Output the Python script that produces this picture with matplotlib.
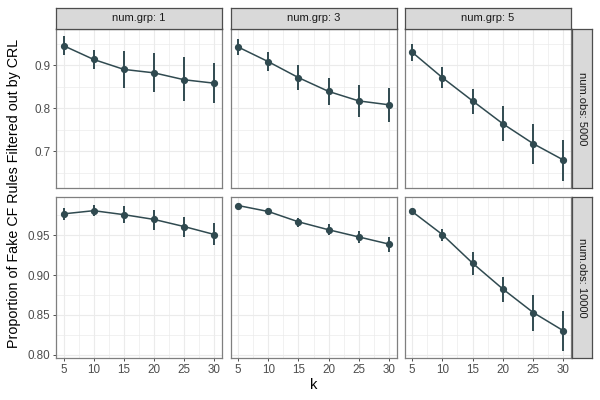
import numpy as np
import matplotlib
matplotlib.use('Agg')
import matplotlib.pyplot as plt
from matplotlib.ticker import MultipleLocator

plt.rcParams['font.family'] = ['Liberation Sans', 'DejaVu Sans']

#data
k = [5, 10, 15, 20, 25, 30]
num_grp = [1, 3, 5]
num_obs = [5000, 10000]

#num.obs: 5000
mean_5000 = {
    1: [0.945, 0.913, 0.890, 0.882, 0.866, 0.858],
    3: [0.942, 0.908, 0.871, 0.839, 0.817, 0.808],
    5: [0.930, 0.871, 0.817, 0.764, 0.718, 0.680],
}
lo_5000 = {
    1: [0.923, 0.890, 0.847, 0.837, 0.817, 0.812],
    3: [0.923, 0.886, 0.843, 0.807, 0.779, 0.769],
    5: [0.910, 0.847, 0.786, 0.723, 0.670, 0.632],
}
hi_5000 = {
    1: [0.968, 0.934, 0.933, 0.927, 0.918, 0.904],
    3: [0.961, 0.930, 0.900, 0.870, 0.855, 0.847],
    5: [0.949, 0.895, 0.845, 0.805, 0.764, 0.727],
}

#num.obs: 10000
mean_10000 = {
    1: [0.977, 0.981, 0.976, 0.970, 0.961, 0.951],
    3: [0.9875, 0.980, 0.967, 0.957, 0.948, 0.939],
    5: [0.980, 0.951, 0.915, 0.8825, 0.853, 0.830],
}
lo_10000 = {
    1: [0.969, 0.974, 0.966, 0.957, 0.948, 0.9375],
    3: [0.986, 0.975, 0.960, 0.950, 0.940, 0.929],
    5: [0.977, 0.943, 0.900, 0.866, 0.830, 0.805],
}
hi_10000 = {
    1: [0.984, 0.988, 0.987, 0.982, 0.973, 0.966],
    3: [0.989, 0.985, 0.972, 0.964, 0.956, 0.948],
    5: [0.983, 0.958, 0.929, 0.898, 0.875, 0.855],
}

means = {5000: mean_5000, 10000: mean_10000}
lows = {5000: lo_5000, 10000: lo_10000}
highs = {5000: hi_5000, 10000: hi_10000}

col = '#304A50'
grid_col = '#EBEBEB'
W, H = 600.0, 400.0

fig = plt.figure(figsize=(6, 4), dpi=100)

#panel positions in pixels
xs = [(56, 222), (230.5, 396.5), (404.5, 571)]
ys = [(28.5, 188), (197, 358)]
ytick_major = [[0.7, 0.8, 0.9], [0.80, 0.85, 0.90, 0.95]]
ytick_fmt = ['%.1f', '%.2f']
yminor = [0.05, 0.025]

for r, nobs in enumerate(num_obs):
    # shared y range per row
    allv = []
    for g in num_grp:
        allv += lows[nobs][g] + highs[nobs][g]
    vmin, vmax = min(allv), max(allv)
    pad = 0.05 * (vmax - vmin)
    for c, g in enumerate(num_grp):
        x0, x1 = xs[c]
        y0, y1 = ys[r]
        ax = fig.add_axes([x0 / W, 1 - y1 / H, (x1 - x0) / W, (y1 - y0) / H])
        m = np.array(means[nobs][g])
        lo = np.array(lows[nobs][g])
        hi = np.array(highs[nobs][g])
        ax.vlines(k, lo, hi, color=col, lw=1.4, zorder=3)
        ax.plot(k, m, color=col, lw=1.1, zorder=4)
        ax.plot(k, m, 'o', color=col, ms=4.2, zorder=5)
        ax.set_xlim(3.75, 31.25)
        ax.set_ylim(vmin - pad, vmax + pad)
        ax.set_xticks(k)
        ax.xaxis.set_minor_locator(MultipleLocator(2.5))
        ax.set_yticks(ytick_major[r])
        ax.yaxis.set_minor_locator(MultipleLocator(yminor[r]))
        ax.grid(True, which='major', color=grid_col, lw=0.8)
        ax.grid(True, which='minor', color=grid_col, lw=0.5)
        ax.set_axisbelow(True)
        for s in ax.spines.values():
            s.set_color('#7f7f7f')
            s.set_linewidth(0.9)
        ax.tick_params(which='minor', length=0)
        ax.tick_params(which='major', length=2.5, width=0.6, color='#333333',
                       labelsize=8.4, labelcolor='#4d4d4d', pad=1.5)
        if c == 0:
            ax.set_yticklabels([ytick_fmt[r] % v for v in ytick_major[r]])
        else:
            ax.tick_params(axis='y', which='major', length=0, labelleft=False)
        if r == 1:
            ax.set_xticklabels([str(v) for v in k])
        else:
            ax.tick_params(axis='x', which='major', length=0, labelbottom=False)

        # top strips
        if r == 0:
            sax = fig.add_axes([x0 / W, 1 - 28.5 / H, (x1 - x0) / W, 20.8 / H])
            sax.set_facecolor('#D9D9D9')
            sax.set_xticks([])
            sax.set_yticks([])
            for s in sax.spines.values():
                s.set_color('#4d4d4d')
                s.set_linewidth(0.9)
            sax.text(0.5, 0.5, 'num.grp: %d' % g, ha='center', va='center',
                     fontsize=8, color='#1a1a1a', transform=sax.transAxes)

    # right strips
    y0, y1 = ys[r]
    rax = fig.add_axes([571.5 / W, 1 - y1 / H, 20.8 / W, (y1 - y0) / H])
    rax.set_facecolor('#D9D9D9')
    rax.set_xticks([])
    rax.set_yticks([])
    for s in rax.spines.values():
        s.set_color('#4d4d4d')
        s.set_linewidth(0.9)
    rax.text(0.5, 0.5, 'num.obs: %d' % nobs, ha='center', va='center',
             rotation=-90, fontsize=8, color='#1a1a1a', transform=rax.transAxes)

fig.text(14 / W, 1 - 193 / H, 'Proportion of Fake CF Rules Filtered out by CRL',
         rotation=90, ha='center', va='center', fontsize=10.3)
fig.text(313.5 / W, 1 - 385 / H, 'k', ha='center', va='center', fontsize=10.5)

plt.savefig('out.png', dpi=100)
